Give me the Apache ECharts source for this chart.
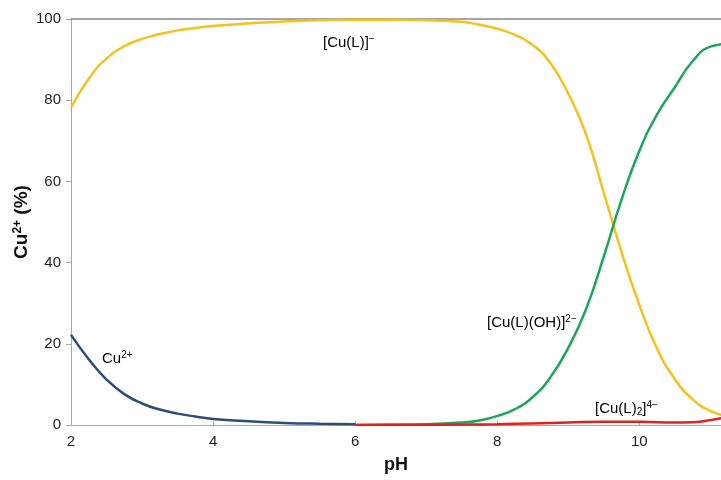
<!DOCTYPE html>
<html>
<head>
<meta charset="utf-8">
<script src="https://cdn.jsdelivr.net/npm/echarts@6/dist/echarts.min.js"></script>
<style>
  html, body { margin: 0; padding: 0; background: #fff; }
  #chart { width: 721px; height: 480px; }
</style>
</head>
<body>
<div id="chart"></div>
<script>
// Copper(II) speciation vs pH (percent of total Cu)
const xRange = [2, 11.15];          // visible pH window
const yTicks = [0, 20, 40, 60, 80, 100];

// Free Cu2+ (pH 2 – 6)
const phFree = [2, 2.25, 2.5, 2.75, 3, 3.25, 3.5, 3.75, 4, 4.5, 5, 5.5, 6];
const cuFree = [22.2, 16.2, 11.2, 7.6, 5.3, 3.8, 2.8, 2.1, 1.5, 0.9, 0.5, 0.3, 0.2];

// [Cu(L)]- (pH 2 – 11.25)
const phCuL = [2, 2.25, 2.5, 2.75, 3, 3.25, 3.5, 3.75, 4, 4.5, 5, 5.5, 6, 6.5, 7, 7.5, 7.75, 8, 8.25, 8.5, 8.75, 9, 9.25, 9.5, 9.75, 10, 10.25, 10.5, 10.75, 11, 11.25];
const cuL = [78.2, 85.3, 90.3, 93.3, 95.1, 96.3, 97.2, 97.8, 98.3, 98.9, 99.4, 99.7, 99.8, 99.8, 99.7, 99.3, 98.6, 97.6, 96.1, 93.6, 89.1, 81.6, 71.6, 57.2, 42.6, 29.6, 18.8, 11.3, 6.3, 3.5, 2.1];

// [Cu(L)(OH)]2- (pH 6 – 11.25)
const phCuLOH = [6, 6.5, 7, 7.5, 7.75, 8, 8.25, 8.5, 8.75, 9, 9.25, 9.5, 9.75, 10, 10.25, 10.5, 10.75, 11, 11.25];
const cuLOH = [0, 0.1, 0.2, 0.6, 1.1, 2.2, 3.9, 6.9, 11.8, 19, 28.5, 41.5, 55.5, 67.5, 76.5, 83.2, 89.6, 93.2, 93.9];

// [Cu(L)2]4- (pH 6 – 11.25)
const phCuL2 = [6, 6.5, 7, 7.5, 8, 8.5, 9, 9.5, 10, 10.5, 10.75, 11, 11.25];
const cuL2 = [0, 0, 0.05, 0.1, 0.2, 0.4, 0.6, 0.8, 0.8, 0.6, 0.7, 1.2, 2.0];

const pairs = (xs, ys) => xs.map((x, i) => [x, ys[i]]);

const FONT = 'Arial, "Liberation Sans", sans-serif';
const baseStyle = { fontSize: 15, fontFamily: FONT, color: '#222' };
const supStyle = { fontSize: 10, fontFamily: FONT, color: '#222', verticalAlign: 'top', padding: [0, 0, 7, 0] };
const subStyle = { fontSize: 10, fontFamily: FONT, color: '#222', verticalAlign: 'bottom', padding: [7, 0, 0, 0] };

function lineSeries(name, data, color, z) {
  return {
    name: name,
    type: 'line',
    data: data,
    smooth: 0.5,
    symbol: 'none',
    clip: true,
    z: z,
    lineStyle: { color: color, width: 2.5 }
  };
}

function label(x, y, text) {
  return {
    type: 'text', x: x, y: y, z: 10,
    style: {
      text: text,
      verticalAlign: 'middle',
      rich: { a: baseStyle, p: supStyle, d: subStyle }
    }
  };
}

const chart = echarts.init(document.getElementById('chart'), null, { renderer: 'canvas' });

chart.setOption({
  animation: false,
  backgroundColor: '#ffffff',
  grid: { left: 71, top: 19, right: 0, bottom: 55, containLabel: false },
  xAxis: [{
    type: 'value',
    min: xRange[0],
    max: xRange[1],
    interval: 2,
    name: 'pH',
    nameLocation: 'middle',
    nameGap: 31,
    nameMoveOverlap: false,
    nameTextStyle: { fontSize: 18, fontWeight: 'bold', fontFamily: FONT, color: '#111' },
    axisLine: { lineStyle: { color: '#a8a8a8', width: 1 } },
    axisTick: { inside: true, length: 4, lineStyle: { color: '#a8a8a8' } },
    axisLabel: { fontSize: 15, fontFamily: FONT, color: '#222', margin: 9, showMaxLabel: false },
    splitLine: { show: false }
  }, {
    type: 'value',
    position: 'top',
    min: xRange[0],
    max: xRange[1],
    axisLine: { show: true, lineStyle: { color: '#888', width: 1.5 } },
    axisTick: { show: false },
    axisLabel: { show: false },
    splitLine: { show: false }
  }],
  yAxis: {
    type: 'value',
    min: yTicks[0],
    max: yTicks[yTicks.length - 1],
    interval: 20,
    name: '{b|Cu}{s|2+}{b| (%)}',
    nameLocation: 'middle',
    nameGap: 40,
    nameMoveOverlap: false,
    nameRotate: 90,
    nameTextStyle: {
      rich: {
        b: { fontSize: 19, fontWeight: 'bold', fontFamily: FONT, color: '#111' },
        s: { fontSize: 12, fontWeight: 'bold', fontFamily: FONT, color: '#111', verticalAlign: 'top', padding: [0, 0, 7, 0] }
      }
    },
    axisLine: { show: true, lineStyle: { color: '#a8a8a8', width: 1 } },
    axisTick: { show: true, inside: false, length: 5, lineStyle: { color: '#a8a8a8' } },
    axisLabel: { fontSize: 15, fontFamily: FONT, color: '#222', margin: 10 },
    splitLine: { show: false }
  },
  series: [
    lineSeries('[Cu(L)]-', pairs(phCuL, cuL), '#F6C11C', 2),
    lineSeries('[Cu(L)(OH)]2-', pairs(phCuLOH, cuLOH), '#1FA65A', 3),
    lineSeries('Cu2+', pairs(phFree, cuFree), '#2C4D78', 4),
    lineSeries('[Cu(L)2]4-', pairs(phCuL2, cuL2), '#E2211C', 5)
  ],
  graphic: [
    label(323, 43, '{a|[Cu(L)]}{p|−}'),
    label(102, 359, '{a|Cu}{p|2+}'),
    label(487, 323, '{a|[Cu(L)(OH)]}{p|2−}'),
    label(595, 409, '{a|[Cu(L)}{d|2}{a|]}{p|4−}')
  ]
});
</script>
</body>
</html>
